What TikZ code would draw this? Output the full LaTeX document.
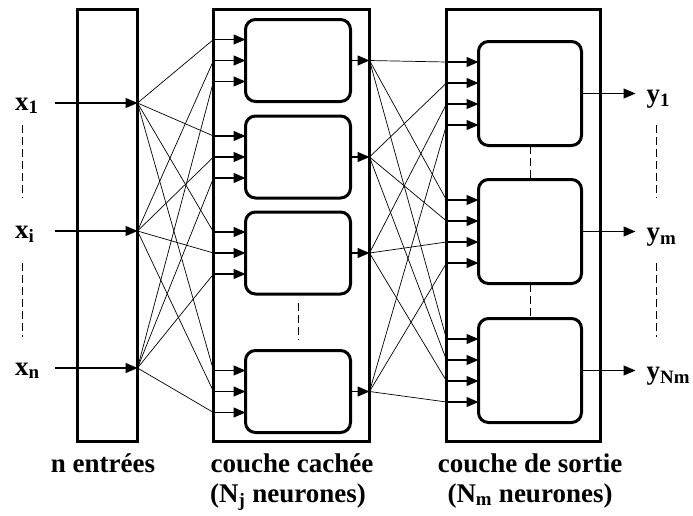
\documentclass[tikz,border=0pt]{standalone}
\usepackage{fontspec}
\setmainfont{Liberation Serif}
\usepackage{tikz}
\usetikzlibrary{arrows.meta,calc}

\tikzset{
  layer/.style={draw,line width=3pt,inner sep=0pt,outer sep=0pt},
  neuron/.style={draw,line width=3pt,rounded corners=10pt,inner sep=0pt,outer sep=0pt},
  arr/.style={line width=1.2pt,-{Triangle[length=12pt,width=10pt]}},
  wire/.style={line width=0.7pt},
  etc/.style={line width=0.9pt,dash pattern=on 8pt off 4pt},
  lbl/.style={font=\fontsize{27}{32}\selectfont\bfseries,inner sep=0pt}
}

\begin{document}
\begin{tikzpicture}[x=1pt,y=-1pt]
  \useasboundingbox (0,0) rectangle (693,515);

  % The three layers
  \node[layer,minimum width=60pt,minimum height=432pt] (inbox) at (107.5,225.5) {};
  \node[layer,minimum width=156pt,minimum height=432pt] (hidbox) at (291.5,225.5) {};
  \node[layer,minimum width=154pt,minimum height=432pt] (outbox) at (523.5,225.5) {};

  % Hidden neurons
  \foreach \j/\y in {1/60.5,2/157,3/253,4/391.5}
    \node[neuron,minimum width=105pt,minimum height=82pt] (h\j) at (298,\y) {};

  % Output neurons
  \foreach \j/\y in {1/93.5,2/231.5,3/370.5}
    \node[neuron,minimum width=103pt,minimum height=104pt] (o\j) at (530,\y) {};

  % Inputs x_1 ... x_n
  \foreach \i/\y/\s in {1/103/1,2/231/i,3/368/n} {
    \node[lbl,anchor=base west] (x\i) at (15,\y+7) {x\textsubscript{\s}};
    \coordinate (s\i) at (55,\y);
    \coordinate (in\i) at (inbox.east |- s\i);
    \draw[arr] (s\i) -- (in\i);
  }

  % Inputs to hidden neurons
  \foreach \j in {1,...,4}
    \foreach \k/\d in {1/-21,2/0,3/21} {
      \coordinate (hin\j\k) at ($(h\j.west)+(0,\d)$);
      \draw[arr] (hidbox.west |- hin\j\k) -- (hin\j\k);
      \draw[wire] (in\k) -- (hidbox.west |- hin\j\k);
    }

  % Hidden outputs
  \foreach \j in {1,...,4} {
    \coordinate (hout\j) at (hidbox.east |- h\j.east);
    \draw[arr] (h\j.east) -- (hout\j);
  }

  % Hidden outputs to output neurons
  \foreach \j in {1,2,3}
    \foreach \k/\d in {1/-31.5,2/-10.5,3/10.5,4/31.5} {
      \coordinate (oin\j\k) at ($(o\j.west)+(0,\d)$);
      \draw[arr] (outbox.west |- oin\j\k) -- (oin\j\k);
      \draw[wire] (hout\k) -- (outbox.west |- oin\j\k);
    }

  % Outputs y_1 ... y_Nm
  \foreach \j/\s in {1/1,2/m,3/Nm} {
    \coordinate (t\j) at ([xshift=54pt]o\j.east);
    \draw[arr] (o\j.east) -- (t\j);
    \node[lbl,anchor=base west] (y\j) at ([xshift=11pt,yshift=-9pt]t\j) {y\textsubscript{\s}};
  }

  % Dashed gaps
  \foreach \x in {22,656} {
    \draw[etc] (\x,125) -- (\x,198);
    \draw[etc] (\x,263) -- (\x,337);
  }
  \draw[etc,shorten <=9pt,shorten >=11pt] (h3.south) -- (h4.north);
  \draw[etc] (o1.south) -- (o2.north);
  \draw[etc] (o2.south) -- (o3.north);

  % Layer names
  \node[lbl,anchor=base] (inlbl) at (103,472) {n entrées};
  \node[lbl,anchor=base] (hidlbl) at (292,472) {couche cachée};
  \node[lbl,anchor=base] (hidnb) at (288,502) {(N\textsubscript{j} neurones)};
  \node[lbl,anchor=base] (outlbl) at (530,472) {couche de sortie};
  \node[lbl,anchor=base] (outnb) at (530,502) {(N\textsubscript{m} neurones)};
\end{tikzpicture}
\end{document}
